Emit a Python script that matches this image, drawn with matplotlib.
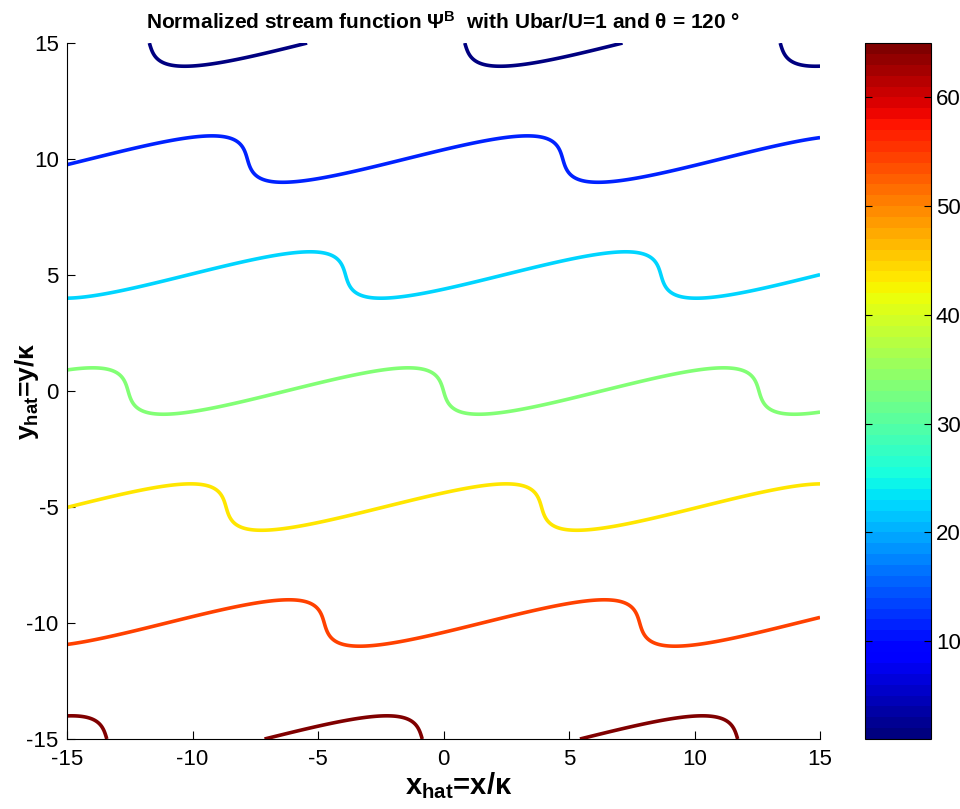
import numpy as np
import matplotlib
matplotlib.use('Agg')
import matplotlib.pyplot as plt
from matplotlib import colors, cm

plt.rcParams['font.family'] = ['Liberation Sans', 'DejaVu Sans']
plt.rcParams['mathtext.fontset'] = 'custom'
plt.rcParams['mathtext.rm'] = 'Liberation Sans'
plt.rcParams['mathtext.bf'] = 'Liberation Sans:bold'
plt.rcParams['axes.unicode_minus'] = False

# flow parameters
theta_deg = 120
ubar_over_u = 1
wave_amp = 1.0
wave_number = 0.5

# contour levels (stream function values) and colour limits
psi_levels = [1, 11.67, 22.33, 33, 43.67, 54.33, 65]
clim = [1, 65]
cbar_ticks = [10, 20, 30, 40, 50, 60]
axis_ticks = [-15, -10, -5, 0, 5, 10, 15]

x = np.linspace(-15, 15, 700)
y = np.linspace(-15, 15, 700)
X, Y = np.meshgrid(x, y)
shear = np.tan(np.radians(theta_deg))
F = Y + ubar_over_u * wave_amp * np.sin(wave_number * (X + shear * Y))
PSI = 33 - (32.0 / 15.0) * F

cmap = plt.get_cmap('jet', 64)
norm = colors.Normalize(vmin=clim[0], vmax=clim[1])

fig = plt.figure(figsize=(9.6, 8.09), dpi=100)
ax = fig.add_axes([0.0698, 0.0865, 0.7844, 0.8603])
ax.contour(X, Y, PSI, levels=psi_levels, cmap=cmap, norm=norm, linewidths=2.6)

ax.set_xlim(-15, 15)
ax.set_ylim(-15, 15)
ax.set_xticks(axis_ticks)
ax.set_yticks(axis_ticks)
ax.spines['top'].set_visible(False)
ax.spines['right'].set_visible(False)
ax.tick_params(direction='in', length=6, labelsize=16, width=0.8)
ax.tick_params(axis='x', pad=7)
ax.tick_params(axis='y', pad=6)
ax.set_title(r'Normalized stream function $\mathbf{\Psi^{B}}$  with Ubar/U=1 and θ = 120 °',
             fontsize=15, fontweight='bold', pad=10)
ax.set_xlabel(r'x$_\mathbf{hat}$=x/κ', fontsize=21, fontweight='bold')
ax.set_ylabel(r'y$_\mathbf{hat}$=y/κ', fontsize=19, fontweight='bold')
ax.xaxis.set_label_coords(0.52, -0.045)
ax.yaxis.set_label_coords(-0.034, 0.5)

cax = fig.add_axes([0.901, 0.0865, 0.0688, 0.8603])
sm = cm.ScalarMappable(norm=norm, cmap=cmap)
cb = fig.colorbar(sm, cax=cax, ticks=cbar_ticks)
cb.outline.set_linewidth(0.8)
cax.yaxis.set_ticks_position('both')
cax.tick_params(direction='in', length=5, labelsize=16, width=0.8, labelright=True, labelleft=False)

fig.savefig('out.png', dpi=100)
